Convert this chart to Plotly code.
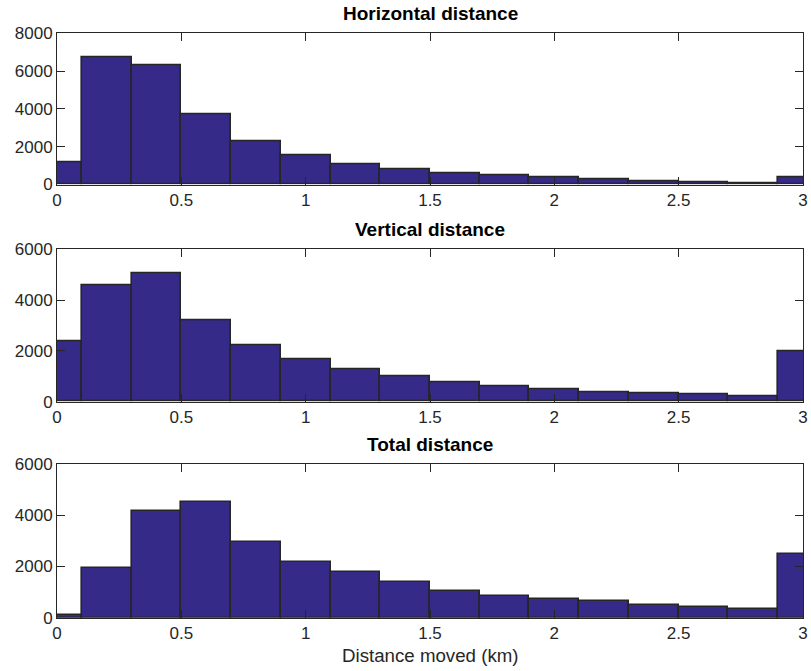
import plotly.graph_objects as go

bin_centers = [0.0, 0.2, 0.4, 0.6, 0.8, 1.0, 1.2, 1.4, 1.6, 1.8, 2.0, 2.2, 2.4, 2.6, 2.8, 3.0]
horizontal = [1150, 6710, 6300, 3730, 2280, 1570, 1080, 780, 585, 510, 390, 300, 180, 125, 70, 390]
vertical = [2375, 4580, 5040, 3190, 2220, 1650, 1260, 1010, 775, 615, 485, 380, 315, 300, 225, 1980]
total = [105, 1940, 4180, 4530, 2955, 2175, 1795, 1380, 1055, 845, 740, 665, 510, 415, 340, 2475]
titles = ["Horizontal distance", "Vertical distance", "Total distance"]
x_title = "Distance moved (km)"
y_max = [8000, 6000, 6000]
x_ticks = [0, 0.5, 1, 1.5, 2, 2.5, 3]
x_ticklabels = ["0", "0.5", "1", "1.5", "2", "2.5", "3"]

W, H = 811, 671
# pixel extents of each panel (top, bottom)
panels_px = [(33.3, 184.5), (249.3, 401.7), (464.0, 617.7)]
FILL = "#352a87"
EDGE = "#262626"
FONT = "Liberation Sans, Arial, Helvetica, sans-serif"

fig = go.Figure()
series = [horizontal, vertical, total]
annotations = []
for i, (vals, ttl, ym, (top, bot)) in enumerate(zip(series, titles, y_max, panels_px)):
    n = "" if i == 0 else str(i + 1)
    fig.add_trace(go.Bar(
        x=bin_centers, y=vals, width=0.2,
        marker=dict(color=FILL, line=dict(color=EDGE, width=1.6)),
        xaxis="x" + n, yaxis="y" + n, showlegend=False, hoverinfo="x+y",
    ))
    dom = [1 - bot / H, 1 - top / H]
    common = dict(showline=True, linecolor=EDGE, linewidth=1, mirror="ticks",
                  ticks="inside", ticklen=8, tickcolor=EDGE, tickwidth=1,
                  showgrid=False, zeroline=False, automargin=False,
                  tickfont=dict(family=FONT, size=17, color="#262626"))
    xa = dict(common, domain=[0, 1], range=[0, 3], tickvals=x_ticks, ticktext=x_ticklabels,
              anchor="y" + n)
    ya = dict(common, domain=dom, range=[0, ym], dtick=2000, anchor="x" + n)
    fig.update_layout(**{"xaxis" + n: xa, "yaxis" + n: ya})
    annotations.append(dict(text="<b>" + ttl + "</b>", x=0.5, xref="paper", y=dom[1], yref="paper",
                            yanchor="middle", xanchor="center", yshift=20, showarrow=False,
                            font=dict(family=FONT, size=19, color="#000000")))
    if i == 2:
        annotations.append(dict(text=x_title, x=0.5, xref="paper", y=dom[0], yref="paper",
                                yanchor="middle", xanchor="center", yshift=-38, showarrow=False,
                                font=dict(family=FONT, size=18.7, color="#262626")))

fig.update_layout(
    width=W, height=H,
    margin=dict(l=57, r=8, t=0, b=0),
    paper_bgcolor="white", plot_bgcolor="white",
    annotations=annotations,
    bargap=0,
)
fig.write_html("out.html")
